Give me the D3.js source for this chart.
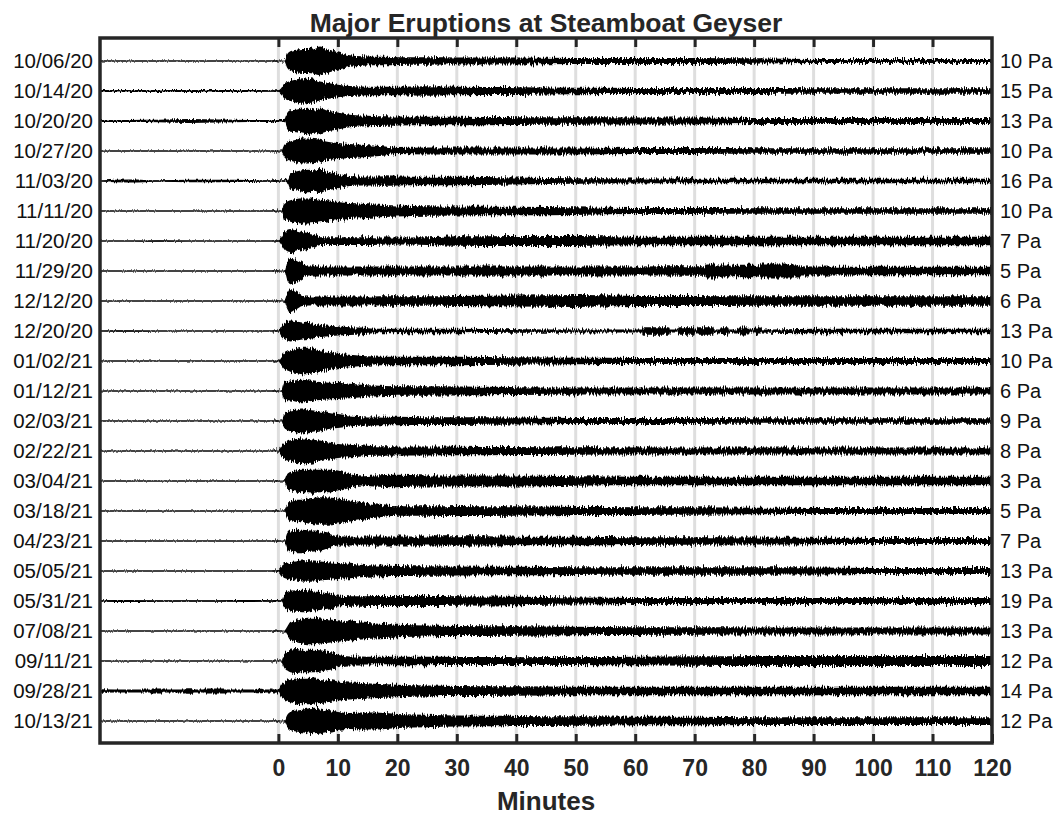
<!DOCTYPE html>
<html>
<head>
<meta charset="utf-8">
<script src="https://cdn.jsdelivr.net/npm/d3@7"></script>
<style>
  html, body { margin: 0; padding: 0; background: #ffffff; }
  svg { display: block; font-family: "Liberation Sans", Arial, Helvetica, sans-serif; }
</style>
</head>
<body>
<svg id="chart" width="1057" height="815"></svg>
<script>
// Eruption dates (one infrasound trace per row) and peak pressure of each trace
const dates = ["10/06/20","10/14/20","10/20/20","10/27/20","11/03/20","11/11/20","11/20/20",
  "11/29/20","12/12/20","12/20/20","01/02/21","01/12/21","02/03/21","02/22/21","03/04/21",
  "03/18/21","04/23/21","05/05/21","05/31/21","07/08/21","09/11/21","09/28/21","10/13/21"];
const peakPa = [10,15,13,10,16,10,7,5,6,13,10,6,9,8,3,5,7,13,19,13,12,14,12];

// Minutes relative to eruption start at which the envelope is sampled
const minutes = [-30,-25,-20,-15,-10,-5,-1,0,
  0.5,1,1.5,2,3,4,5,6,7,8,9,10,12,14,16,18,20,25,30,40,50,60,70,80,90,100,110,120];

// Envelope half-amplitude of each trace (fraction of the trace's peak), one row per date
const envelopes = [
  [.03,.03,.03,.03,.03,.03,.03,.03, .03,.03,.45,.63,.73,.77,.77,.83,.93,.80,.67,.57,.37,.30,.27,.27,.25,.24,.23,.22,.20,.20,.20,.17,.13,.13,.13,.13],
  [.06,.07,.06,.07,.06,.06,.05,.05, .20,.50,.58,.65,.75,.83,.78,.73,.62,.55,.47,.40,.33,.29,.27,.27,.27,.30,.27,.25,.21,.20,.19,.19,.18,.18,.18,.18],
  [.06,.07,.08,.13,.10,.07,.07,.07, .07,.07,.53,.69,.73,.80,.85,.75,.80,.70,.62,.55,.40,.35,.33,.31,.29,.28,.27,.25,.24,.23,.22,.20,.20,.20,.20,.20],
  [.04,.04,.04,.04,.04,.04,.04,.04, .04,.40,.55,.62,.73,.80,.80,.78,.73,.62,.55,.51,.45,.40,.35,.29,.20,.22,.22,.22,.22,.20,.19,.18,.18,.18,.18,.18],
  [.04,.10,.05,.08,.08,.07,.05,.05, .05,.05,.10,.50,.62,.69,.73,.69,.78,.62,.55,.47,.33,.29,.29,.31,.29,.27,.27,.22,.17,.16,.15,.14,.14,.14,.14,.14],
  [.03,.03,.03,.03,.03,.03,.03,.03, .03,.51,.62,.69,.78,.80,.80,.78,.73,.69,.65,.58,.51,.47,.42,.38,.35,.31,.29,.27,.25,.20,.19,.18,.18,.18,.18,.18],
  [.03,.03,.05,.03,.03,.03,.03,.03, .25,.55,.73,.78,.67,.58,.51,.45,.25,.25,.25,.25,.25,.25,.25,.23,.23,.25,.30,.33,.32,.28,.27,.27,.27,.27,.27,.27],
  [.03,.03,.03,.03,.03,.03,.03,.03, .03,.03,.62,.85,.73,.51,.29,.29,.29,.29,.29,.29,.29,.29,.29,.29,.29,.29,.29,.29,.29,.29,.30,.30,.29,.27,.27,.27],
  [.03,.03,.03,.03,.03,.03,.03,.03, .03,.05,.51,.78,.55,.33,.29,.29,.29,.29,.29,.29,.29,.29,.29,.30,.30,.30,.32,.35,.38,.33,.32,.30,.30,.30,.30,.30],
  [.03,.05,.03,.03,.03,.03,.03,.03, .33,.51,.62,.67,.62,.55,.51,.47,.40,.35,.33,.29,.25,.22,.15,.15,.15,.15,.14,.12,.10,.09,.09,.09,.15,.15,.15,.15],
  [.03,.03,.03,.03,.03,.03,.03,.03, .27,.51,.62,.69,.78,.85,.85,.78,.69,.62,.55,.47,.40,.33,.29,.27,.27,.27,.27,.24,.21,.20,.20,.20,.20,.20,.20,.20],
  [.03,.03,.03,.03,.03,.03,.03,.03, .03,.60,.60,.62,.69,.73,.69,.62,.58,.55,.53,.51,.47,.40,.35,.33,.31,.30,.29,.25,.23,.22,.22,.22,.22,.22,.23,.23],
  [.03,.03,.03,.03,.03,.03,.03,.03, .03,.45,.58,.67,.73,.80,.73,.67,.62,.55,.49,.45,.35,.31,.29,.28,.27,.25,.25,.23,.20,.19,.19,.18,.18,.18,.18,.18],
  [.03,.03,.03,.04,.03,.03,.03,.03, .33,.51,.62,.69,.78,.80,.78,.73,.67,.58,.51,.45,.40,.35,.31,.30,.29,.29,.28,.26,.24,.23,.23,.23,.22,.22,.22,.22],
  [.03,.03,.03,.03,.03,.03,.03,.03, .03,.05,.45,.58,.67,.73,.73,.75,.73,.73,.73,.67,.45,.29,.35,.38,.40,.36,.36,.35,.30,.28,.28,.28,.28,.28,.28,.28],
  [.03,.03,.03,.03,.03,.03,.03,.03, .03,.03,.40,.62,.73,.73,.80,.85,.89,.89,.85,.80,.67,.58,.45,.35,.31,.31,.33,.30,.26,.25,.24,.21,.20,.20,.19,.19],
  [.03,.03,.03,.03,.03,.03,.03,.03, .03,.03,.51,.67,.73,.73,.69,.67,.62,.51,.40,.29,.29,.29,.29,.29,.29,.29,.30,.28,.27,.25,.24,.23,.21,.20,.20,.20],
  [.03,.03,.03,.03,.03,.03,.03,.05, .29,.45,.51,.58,.62,.67,.69,.67,.62,.58,.55,.51,.47,.40,.35,.34,.33,.31,.29,.27,.25,.24,.24,.24,.23,.19,.19,.19],
  [.05,.07,.05,.05,.05,.06,.05,.05, .05,.45,.58,.67,.69,.73,.69,.62,.58,.51,.45,.35,.31,.31,.33,.33,.33,.33,.31,.27,.23,.20,.20,.20,.20,.20,.20,.20],
  [.03,.03,.03,.03,.03,.03,.03,.03, .03,.03,.29,.58,.73,.80,.85,.85,.80,.78,.73,.69,.62,.55,.49,.45,.40,.35,.33,.31,.27,.25,.24,.23,.23,.23,.23,.23],
  [.03,.03,.03,.03,.04,.03,.03,.03, .03,.45,.62,.73,.78,.73,.73,.73,.69,.62,.55,.40,.29,.29,.27,.27,.27,.27,.26,.25,.26,.28,.30,.33,.33,.33,.33,.33],
  [.12,.10,.10,.10,.10,.10,.10,.10, .40,.55,.67,.73,.80,.85,.85,.80,.78,.73,.69,.62,.55,.51,.47,.43,.40,.35,.33,.31,.28,.27,.27,.27,.27,.27,.27,.27],
  [.03,.03,.03,.03,.03,.03,.03,.03, .03,.03,.40,.58,.67,.73,.80,.85,.80,.73,.67,.58,.51,.55,.55,.51,.45,.40,.35,.33,.30,.28,.27,.25,.25,.25,.25,.25]
];

// Short bursts of stronger signal: [date, start minute, end minute, half-amplitude]
const bursts = [
  ["11/29/20", 71.8, 76.0, .42], ["11/29/20", 76.3, 80.6, .40], ["11/29/20", 81.0, 87.7, .42],
  ["12/20/20", 61.2, 65.8, .24], ["12/20/20", 67.2, 70.0, .24], ["12/20/20", 70.4, 73.2, .24],
  ["12/20/20", 74.3, 75.7, .24], ["12/20/20", 77.1, 79.2, .23], ["12/20/20", 79.9, 81.3, .22],
  ["09/28/21", -21.6, -19.4, .16], ["09/28/21", -15.7, -14.3, .17],
  ["09/28/21", -12.6, -8.6, .16], ["09/28/21", -3.9, -2.5, .15]
];

// Axis ticks
const tickMinutes = [0,10,20,30,40,50,60,70,80,90,100,110,120];

const svg = d3.select("#chart");
const W = 1057, H = 815;
const pL = 100, pR = 992, pT = 38, pB = 743;
const ink = "#262626";

svg.append("rect").attr("width", W).attr("height", H).attr("fill", "#fff");

const x = d3.scaleLinear().domain([-30, 120]).range([pL, pR]);
const y = d3.scalePoint().domain(dates).range([61, 721]);
const amp = d3.scaleLinear().domain([0, 1]).range([0, 15.5]);

// Ragged edge textures for the waveform envelopes (strong after onset, light before)
const defs = svg.append("defs");
function raggedFilter(id, strength) {
  const f = defs.append("filter").attr("id", id)
    .attr("filterUnits", "userSpaceOnUse")
    .attr("x", pL).attr("y", pT).attr("width", pR - pL).attr("height", pB - pT);
  f.append("feTurbulence").attr("type", "fractalNoise").attr("baseFrequency", "0.9 0.07")
    .attr("numOctaves", 2).attr("seed", 4).attr("result", "noise");
  f.append("feColorMatrix").attr("in", "noise").attr("type", "matrix")
    .attr("values", "0 0 0 0 0.5  0 1 0 0 0  0 0 0 0 0  0 0 0 0 1").attr("result", "vnoise");
  f.append("feDisplacementMap").attr("in", "SourceGraphic").attr("in2", "vnoise")
    .attr("scale", strength).attr("xChannelSelector", "R").attr("yChannelSelector", "G");
}
raggedFilter("ragged", 8);
raggedFilter("ragged-light", 3.5);
defs.append("clipPath").attr("id", "plotclip").append("rect")
  .attr("x", pL).attr("y", pT).attr("width", pR - pL).attr("height", pB - pT);

// Vertical grid lines
svg.append("g").selectAll("line").data(tickMinutes.slice(0, -1)).join("line")
  .attr("x1", d => x(d)).attr("x2", d => x(d))
  .attr("y1", pT).attr("y2", pB)
  .attr("stroke", "#dedede").attr("stroke-width", 3);

// Traces
const traces = svg.append("g").attr("clip-path", "url(#plotclip)");
traces.selectAll("line.base").data(dates).join("line").attr("class", "base")
  .attr("x1", x(-30)).attr("x2", x(120))
  .attr("y1", d => y(d)).attr("y2", d => y(d))
  .attr("stroke", "#111").attr("stroke-width", 1);

const quiet = traces.append("g").attr("filter", "url(#ragged-light)");
const loud = traces.append("g").attr("filter", "url(#ragged)");
dates.forEach((date, i) => {
  const pts = minutes.map((m, j) => ({ m, a: envelopes[i][j] }));
  const area = d3.area()
    .x(d => x(d.m))
    .y0(d => y(date) + amp(d.a))
    .y1(d => y(date) - amp(d.a))
    .curve(d3.curveMonotoneX);
  quiet.append("path").attr("d", area(pts.filter(p => p.m <= 0))).attr("fill", "#000");
  loud.append("path").attr("d", area(pts.filter(p => p.m >= -1))).attr("fill", "#000");
});
const burstRect = sel => sel
  .attr("x", d => x(d[1])).attr("width", d => x(d[2]) - x(d[1]))
  .attr("y", d => y(d[0]) - amp(d[3])).attr("height", d => 2 * amp(d[3]))
  .attr("rx", 1.5).attr("fill", "#000");
quiet.selectAll("rect").data(bursts.filter(b => b[2] <= 0)).join("rect").call(burstRect);
loud.selectAll("rect").data(bursts.filter(b => b[2] > 0)).join("rect").call(burstRect);

// Axes: inward ticks on top and bottom, labels on the bottom
const axB = svg.append("g").attr("transform", `translate(0,${pB})`)
  .call(d3.axisBottom(x).tickValues(tickMinutes).tickSize(-9).tickPadding(17).tickFormat(d3.format("d")));
axB.select(".domain").remove();
axB.selectAll(".tick line").attr("stroke", ink).attr("stroke-width", 3);
axB.selectAll(".tick text").attr("fill", ink).attr("font-size", 23).attr("font-weight", "bold")
  .attr("font-family", "'Liberation Sans', Arial, sans-serif");

const axT = svg.append("g").attr("transform", `translate(0,${pT})`)
  .call(d3.axisTop(x).tickValues(tickMinutes.slice(0, -1)).tickSize(-9).tickFormat(""));
axT.select(".domain").remove();
axT.selectAll(".tick line").attr("stroke", ink).attr("stroke-width", 3);

// Frame
svg.append("rect").attr("x", pL).attr("y", pT)
  .attr("width", pR - pL).attr("height", pB - pT)
  .attr("fill", "none").attr("stroke", ink).attr("stroke-width", 3.5);

// Row labels
svg.append("g").selectAll("text").data(dates).join("text")
  .attr("x", 93).attr("y", d => y(d) + 7)
  .attr("text-anchor", "end").attr("font-size", 20.5).attr("fill", "#111")
  .text(d => d);
svg.append("g").selectAll("text").data(peakPa).join("text")
  .attr("x", 1000).attr("y", (d, i) => y(dates[i]) + 7)
  .attr("font-size", 20).attr("fill", "#111")
  .text(d => `${d} Pa`);

// Title and axis label
svg.append("text").attr("x", (pL + pR) / 2).attr("y", 32)
  .attr("text-anchor", "middle").attr("font-size", 26.5).attr("font-weight", "bold").attr("fill", ink)
  .text("Major Eruptions at Steamboat Geyser");
svg.append("text").attr("x", (pL + pR) / 2).attr("y", 810)
  .attr("text-anchor", "middle").attr("font-size", 26).attr("font-weight", "bold").attr("fill", ink)
  .text("Minutes");
</script>
</body>
</html>
